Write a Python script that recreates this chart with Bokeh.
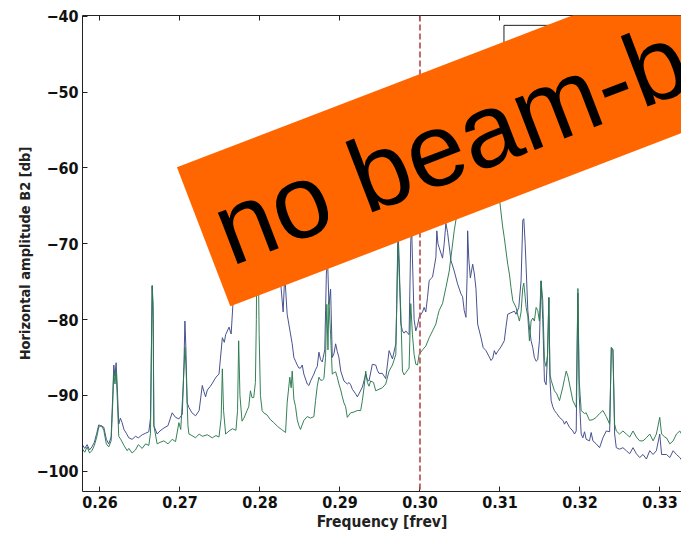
from bokeh.plotting import figure
from bokeh.models import Range1d, LinearAxis, Span, Label, BoxAnnotation, FixedTicker, CustomJSTickFormatter
from bokeh.embed import file_html
from bokeh.resources import INLINE

# ---- data ----
freq_navy = [0.25776, 0.25780, 0.25810, 0.25840, 0.25870, 0.25900, 0.25930, 0.25960, 0.25985, 0.26010,
             0.26048, 0.26080, 0.26110, 0.26140, 0.26160, 0.26173, 0.26188, 0.26202, 0.26215, 0.26235,
             0.26255, 0.26277, 0.26300, 0.26330, 0.26361, 0.26402, 0.26444, 0.26480, 0.26528, 0.26570,
             0.26611, 0.26632, 0.26653, 0.26665, 0.26674, 0.26715, 0.26750, 0.26800, 0.26850, 0.26903,
             0.26945, 0.26987, 0.27029, 0.27050, 0.27062, 0.27075, 0.27090, 0.27112, 0.27150, 0.27195,
             0.27240, 0.27279, 0.27300, 0.27320, 0.27342, 0.27380, 0.27405, 0.27450, 0.27488, 0.27530,
             0.27555, 0.27571, 0.27614, 0.27640, 0.27665, 0.27700, 0.27800, 0.27900, 0.27960, 0.27990,
             0.28100, 0.28200, 0.28260, 0.28290, 0.28310, 0.28340, 0.28382, 0.28403, 0.28424, 0.28445,
             0.28466, 0.28487, 0.28507, 0.28528, 0.28549, 0.28591, 0.28612, 0.28633, 0.28674, 0.28695,
             0.28716, 0.28737, 0.28758, 0.28779, 0.28810, 0.28830, 0.28845, 0.28862, 0.28883, 0.28904,
             0.28925, 0.28946, 0.28966, 0.28987, 0.29010, 0.29050, 0.29092, 0.29113, 0.29134, 0.29155,
             0.29196, 0.29217, 0.29238, 0.29280, 0.29322, 0.29343, 0.29363, 0.29405, 0.29447, 0.29468,
             0.29488, 0.29530, 0.29572, 0.29614, 0.29656, 0.29698, 0.29710, 0.29725, 0.29740, 0.29760,
             0.29781, 0.29802, 0.29823, 0.29864, 0.29885, 0.29896, 0.29906, 0.29927, 0.29948, 0.29969,
             0.29990, 0.30032, 0.30052, 0.30073, 0.30094, 0.30115, 0.30136, 0.30157, 0.30178, 0.30199,
             0.30211, 0.30225, 0.30240, 0.30282, 0.30303, 0.30324, 0.30345, 0.30387, 0.30428, 0.30470,
             0.30512, 0.30533, 0.30553, 0.30575, 0.30590, 0.30596, 0.30610, 0.30630, 0.30659, 0.30680,
             0.30700, 0.30721, 0.30763, 0.30790, 0.30825, 0.30860, 0.30888, 0.30910, 0.30929, 0.30950,
             0.30972, 0.31013, 0.31054, 0.31075, 0.31097, 0.31138, 0.31180, 0.31201, 0.31235, 0.31264,
             0.31285, 0.31298, 0.31315, 0.31327, 0.31348, 0.31368, 0.31389, 0.31410, 0.31430, 0.31452,
             0.31472, 0.31493, 0.31514, 0.31535, 0.31556, 0.31577, 0.31595, 0.31611, 0.31625, 0.31640,
             0.31660, 0.31681, 0.31710, 0.31744, 0.31786, 0.31807, 0.31828, 0.31869, 0.31911, 0.31932,
             0.31953, 0.31974, 0.31990, 0.32015, 0.32036, 0.32057, 0.32078, 0.32119, 0.32140, 0.32162,
             0.32203, 0.32245, 0.32287, 0.32329, 0.32371, 0.32392, 0.32412, 0.32433, 0.32454, 0.32495,
             0.32537, 0.32579, 0.32621, 0.32663, 0.32705, 0.32746, 0.32788, 0.32830, 0.32872, 0.32914,
             0.32955, 0.32997, 0.33020, 0.33081, 0.33123, 0.33165, 0.33206, 0.33248, 0.33275]
amp_navy = [-90.0, -96.5, -97.0, -96.5, -97.2, -96.8, -96.2, -95.0, -93.9, -94.0,
            -94.2, -95.8, -96.4, -95.5, -90.0, -86.0, -87.5, -85.7, -88.5, -93.8,
            -93.0, -93.6, -94.5, -95.0, -95.6, -95.8, -95.4, -95.6, -95.2, -95.0,
            -94.8, -93.0, -75.5, -80.0, -94.0, -95.1, -94.7, -94.3, -94.0, -92.3,
            -92.9, -93.1, -92.5, -86.0, -80.2, -84.0, -91.0, -91.6, -92.3, -92.7,
            -92.0, -88.7, -89.5, -90.2, -89.3, -88.8, -88.4, -87.6, -87.2, -82.4,
            -83.0, -82.0, -81.0, -81.9, -77.5, -75.0, -72.0, -70.5, -64.0, -70.0,
            -72.0, -73.5, -75.3, -79.0, -74.0, -79.3, -81.9, -83.2, -85.0, -85.5,
            -86.0, -86.4, -86.4, -86.0, -87.2, -88.5, -88.7, -88.1, -87.2, -86.6,
            -86.2, -84.3, -85.3, -85.6, -84.0, -74.0, -72.0, -78.0, -76.0, -85.0,
            -84.5, -83.2, -84.2, -85.0, -86.8, -88.1, -88.5, -88.3, -88.6, -89.2,
            -89.8, -90.2, -89.8, -88.9, -87.2, -88.0, -88.1, -85.9, -86.0, -86.7,
            -87.1, -87.1, -87.8, -84.1, -85.2, -83.2, -78.0, -68.0, -72.0, -80.5,
            -81.5, -81.8, -81.5, -82.0, -69.6, -68.0, -72.0, -80.0, -81.5, -80.8,
            -79.7, -79.0, -78.4, -79.0, -77.1, -74.9, -74.6, -74.4, -73.1, -71.8,
            -68.3, -70.0, -70.5, -71.9, -70.0, -67.3, -68.5, -72.2, -73.6, -75.3,
            -76.6, -77.0, -78.8, -79.7, -74.0, -68.3, -72.0, -74.5, -72.7, -74.0,
            -75.9, -80.6, -82.4, -83.7, -84.1, -84.8, -85.4, -85.1, -84.1, -84.6,
            -84.2, -83.6, -82.8, -81.0, -79.3, -79.1, -78.9, -79.3, -78.4, -74.9,
            -66.9, -66.7, -70.0, -73.1, -78.8, -81.0, -82.8, -83.7, -85.0, -85.5,
            -85.3, -82.8, -74.9, -80.0, -88.1, -88.6, -84.6, -77.1, -88.0, -90.7,
            -91.5, -92.0, -92.4, -92.9, -93.3, -93.8, -93.4, -94.2, -94.7, -95.1,
            -94.7, -76.5, -90.0, -95.1, -95.6, -94.8, -95.8, -96.0, -94.9, -96.0,
            -96.4, -96.9, -95.6, -94.7, -94.8, -83.7, -84.0, -95.1, -96.9, -97.1,
            -96.9, -97.3, -97.7, -96.9, -97.7, -98.2, -97.8, -98.4, -97.3, -97.8,
            -97.3, -95.1, -97.8, -97.8, -98.2, -97.3, -97.8, -98.2, -98.6]

freq_green = [0.25776, 0.25810, 0.25840, 0.25870, 0.25900, 0.25930, 0.25960, 0.25985, 0.26020, 0.26048,
              0.26080, 0.26110, 0.26140, 0.26160, 0.26173, 0.26188, 0.26202, 0.26215, 0.26235, 0.26260,
              0.26300, 0.26340, 0.26361, 0.26402, 0.26444, 0.26480, 0.26528, 0.26570, 0.26611, 0.26632,
              0.26653, 0.26665, 0.26674, 0.26715, 0.26750, 0.26800, 0.26850, 0.26903, 0.26945, 0.26987,
              0.27010, 0.27040, 0.27062, 0.27075, 0.27100, 0.27112, 0.27150, 0.27195, 0.27240, 0.27279,
              0.27342, 0.27405, 0.27450, 0.27488, 0.27515, 0.27530, 0.27545, 0.27571, 0.27614, 0.27655,
              0.27700, 0.27720, 0.27734, 0.27750, 0.27776, 0.27800, 0.27839, 0.27860, 0.27881, 0.27901,
              0.27922, 0.27943, 0.27955, 0.27964, 0.27975, 0.27990, 0.28006, 0.28027, 0.28047, 0.28090,
              0.28130, 0.28173, 0.28220, 0.28270, 0.28320, 0.28340, 0.28373, 0.28390, 0.28403, 0.28424,
              0.28445, 0.28466, 0.28487, 0.28507, 0.28549, 0.28591, 0.28633, 0.28674, 0.28695, 0.28716,
              0.28737, 0.28758, 0.28779, 0.28799, 0.28820, 0.28836, 0.28850, 0.28862, 0.28883, 0.28904,
              0.28925, 0.28946, 0.28966, 0.28987, 0.29010, 0.29030, 0.29050, 0.29071, 0.29092, 0.29134,
              0.29175, 0.29217, 0.29259, 0.29280, 0.29301, 0.29322, 0.29343, 0.29363, 0.29384, 0.29420,
              0.29447, 0.29488, 0.29530, 0.29572, 0.29614, 0.29656, 0.29698, 0.29710, 0.29725, 0.29740,
              0.29760, 0.29781, 0.29802, 0.29823, 0.29864, 0.29885, 0.29906, 0.29927, 0.29948, 0.29969,
              0.29990, 0.30032, 0.30073, 0.30115, 0.30157, 0.30199, 0.30220, 0.30240, 0.30282, 0.30324,
              0.30366, 0.30387, 0.30428, 0.30470, 0.30600, 0.30750, 0.30900, 0.30992, 0.31034, 0.31054,
              0.31097, 0.31118, 0.31138, 0.31160, 0.31201, 0.31222, 0.31243, 0.31264, 0.31285, 0.31298,
              0.31315, 0.31327, 0.31348, 0.31368, 0.31389, 0.31410, 0.31430, 0.31452, 0.31472, 0.31493,
              0.31514, 0.31535, 0.31556, 0.31577, 0.31595, 0.31611, 0.31625, 0.31640, 0.31681, 0.31710,
              0.31744, 0.31786, 0.31807, 0.31828, 0.31850, 0.31869, 0.31911, 0.31953, 0.31974, 0.31990,
              0.32015, 0.32057, 0.32078, 0.32119, 0.32162, 0.32203, 0.32245, 0.32287, 0.32329, 0.32371,
              0.32392, 0.32412, 0.32433, 0.32454, 0.32495, 0.32537, 0.32579, 0.32621, 0.32663, 0.32705,
              0.32746, 0.32788, 0.32830, 0.32872, 0.32914, 0.32955, 0.32997, 0.33020, 0.33060, 0.33081,
              0.33123, 0.33165, 0.33206, 0.33248, 0.33275]
amp_green = [-97.0, -97.5, -96.8, -97.6, -97.3, -96.6, -95.5, -94.2, -94.0, -94.6,
             -96.4, -96.8, -96.0, -91.0, -87.0, -88.5, -86.8, -90.0, -95.4, -95.8,
             -96.6, -97.3, -97.0, -97.6, -97.2, -96.5, -97.0, -96.4, -96.6, -95.0,
             -75.6, -78.0, -94.0, -96.4, -96.2, -96.0, -96.4, -95.8, -96.1, -93.6,
             -94.5, -89.0, -83.7, -86.0, -94.0, -95.1, -95.3, -95.6, -95.1, -95.4,
             -95.2, -95.6, -95.3, -95.5, -93.0, -86.5, -92.0, -95.1, -94.7, -94.4,
             -94.6, -92.0, -82.8, -90.0, -93.4, -93.0, -92.0, -91.5, -89.4, -90.3,
             -90.3, -88.3, -80.0, -66.0, -68.0, -82.0, -90.0, -92.0, -92.3, -92.6,
             -93.2, -93.6, -94.1, -94.5, -94.9, -91.0, -87.6, -89.0, -86.8, -90.5,
             -91.5, -93.2, -94.0, -94.5, -93.3, -92.8, -93.0, -92.8, -90.7, -88.8,
             -87.6, -88.0, -88.0, -87.8, -85.0, -78.0, -84.0, -77.5, -82.0, -87.2,
             -87.0, -86.9, -87.6, -88.5, -89.3, -90.2, -91.0, -91.5, -92.9, -92.3,
             -92.2, -92.0, -92.0, -90.7, -89.0, -86.8, -88.3, -88.8, -88.1, -88.3,
             -89.4, -89.2, -89.0, -88.5, -86.8, -86.0, -84.6, -78.0, -70.0, -74.0,
             -78.8, -86.8, -87.3, -87.0, -86.4, -77.9, -82.0, -84.6, -85.9, -86.0,
             -84.6, -84.0, -83.5, -82.4, -81.5, -80.6, -79.6, -78.8, -77.9, -75.8,
             -73.6, -71.8, -68.3, -65.5, -61.0, -58.0, -60.0, -63.9, -67.8, -69.2,
             -72.7, -74.0, -75.8, -77.5, -78.4, -79.4, -80.2, -79.0, -75.8, -75.2,
             -77.0, -78.4, -79.6, -82.8, -80.2, -79.8, -80.2, -78.4, -78.8, -80.2,
             -74.9, -77.5, -85.4, -86.2, -84.6, -77.1, -87.2, -88.0, -89.4, -89.8,
             -90.7, -88.9, -87.8, -86.8, -87.5, -88.5, -90.7, -91.6, -75.9, -88.0,
             -92.0, -92.4, -92.3, -93.3, -93.2, -92.9, -92.4, -92.0, -92.8, -93.8,
             -83.7, -84.0, -93.8, -94.7, -95.1, -94.7, -95.1, -95.5, -94.7, -95.5,
             -96.0, -96.0, -95.6, -95.1, -96.0, -95.1, -92.9, -95.1, -95.5, -95.6,
             -96.4, -96.0, -95.1, -94.7, -95.2]

x_ticks = [0.26, 0.27, 0.28, 0.29, 0.30, 0.31, 0.32, 0.33]
y_ticks = [-100, -90, -80, -70, -60, -50, -40]
tune_line = 0.30
x_label = "Frequency [frev]"
y_label = "Horizontal amplitude B2 [db]"
banner_text = "no beam-beam"

# ---- figure ----
p = figure(width=681, height=534, output_backend="svg", toolbar_location=None,
           x_range=Range1d(0.25782, 0.33269), y_range=Range1d(-102.68, -39.9),
           min_border_left=82, min_border_right=0, min_border_top=15, min_border_bottom=43,
           background_fill_color="white", border_fill_color="white")
p.outline_line_color = None
p.grid.visible = False

p.line(freq_navy, amp_navy, line_color="#3e4a89", line_width=1, line_alpha=0.95)
p.line(freq_green, amp_green, line_color="#2a7a4e", line_width=1, line_alpha=0.95)

tick_font = "DejaVu Sans Condensed"
for ax in (p.xaxis[0], p.yaxis[0]):
    ax.axis_line_color = "#222222"
    ax.major_tick_line_color = "#222222"
    ax.major_tick_in = 5
    ax.major_tick_out = 0
    ax.minor_tick_line_color = None
    ax.major_label_text_font = tick_font
    ax.major_label_text_font_style = "bold"
    ax.major_label_text_font_size = "16px"
    ax.major_label_text_color = "#111111"
    ax.axis_label_text_font = tick_font
    ax.axis_label_text_font_style = "bold"
    ax.axis_label_text_color = "#222222"
    ax.axis_label_text_font_size = "15.5px"

p.xaxis[0].ticker = FixedTicker(ticks=x_ticks)
p.xaxis[0].formatter = CustomJSTickFormatter(code="return tick.toFixed(2)")
p.xaxis[0].axis_label = x_label
p.xaxis[0].major_label_standoff = 4
p.xaxis[0].axis_label_standoff = 2

p.yaxis[0].ticker = FixedTicker(ticks=y_ticks)
p.yaxis[0].formatter = CustomJSTickFormatter(code="return (tick < 0 ? '\u2212' : '') + Math.abs(tick).toFixed(0)")
p.yaxis[0].axis_label = y_label
p.yaxis[0].axis_label_text_font_size = "14.5px"
p.yaxis[0].major_label_standoff = 4
p.yaxis[0].axis_label_standoff = 0

top = LinearAxis(ticker=FixedTicker(ticks=x_ticks),
                 formatter=CustomJSTickFormatter(code="return ''"),
                 major_label_text_font_size="1px", major_label_standoff=0,
                 axis_line_color="#222222", major_tick_line_color="#222222",
                 major_tick_in=5, major_tick_out=0, minor_tick_line_color=None)
p.add_layout(top, "above")

p.add_layout(Span(location=tune_line, dimension="height", line_color="#b5514d",
                  line_dash="6 3", line_width=2, line_alpha=0.85))

p.add_layout(BoxAnnotation(left=0.3105, right=0.345, top=-41.2, bottom=-47.0,
                           fill_color="white", fill_alpha=1.0,
                           line_color="#222222", line_width=1, line_alpha=1.0))

p.add_layout(Label(x=0.27296, y=-69.09, text=banner_text, angle=21, angle_units="deg",
                   text_font="Liberation Sans", text_font_size="104px",
                   text_color="black", text_align="left", text_baseline="alphabetic",
                   background_fill_color="#ff6600", background_fill_alpha=1.0,
                   padding=dict(left=15, right=40, top=18, bottom=15)))

open("out.html", "w").write(file_html(p, INLINE))
